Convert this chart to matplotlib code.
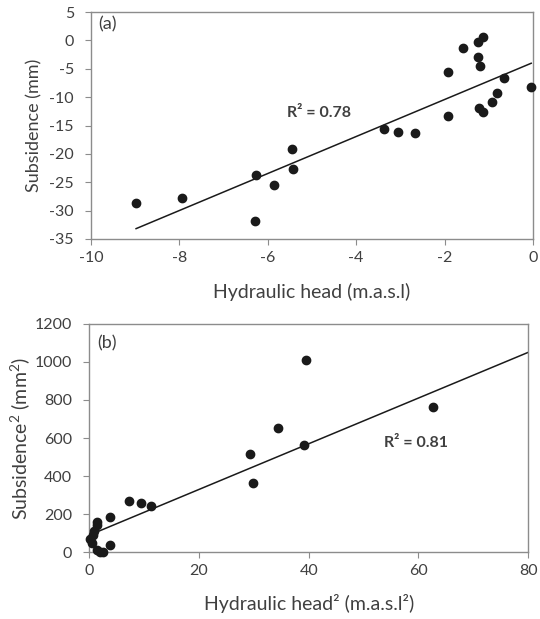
import numpy as np
import matplotlib
matplotlib.use("Agg")
from matplotlib import pyplot as plt

plt.rcParams["font.family"] = ["Lato", "DejaVu Sans"]
plt.rcParams["axes.unicode_minus"] = False
plt.rcParams["mathtext.fontset"] = "custom"
plt.rcParams["mathtext.rm"] = "Lato"
plt.rcParams["mathtext.it"] = "Lato"
plt.rcParams["mathtext.default"] = "regular"

# Panel (a): hydraulic head vs subsidence
head = [-8.98, -7.93, -6.29, -6.27, -5.87, -5.46, -5.42, -3.36, -3.06, -2.68,
        -1.93, -1.92, -1.58, -1.25, -1.13, -1.24, -1.19, -1.21, -1.13, -0.92,
        -0.82, -0.65, -0.04]
subsidence = [-28.7, -27.7, -31.8, -23.8, -25.5, -19.1, -22.7, -15.6, -16.1, -16.4,
              -5.6, -13.3, -1.3, -0.3, 0.6, -2.9, -4.6, -12.0, -12.7, -10.8,
              -9.3, -6.6, -8.2]
# linear trendline (slope, intercept) and its x range, as shown in panel (a)
trend_a = [3.26, -3.9]
trend_a_range = [-8.98, -0.04]

# Panel (b): squared values
head_sq = [39.5, 62.7, 34.4, 39.2, 29.3, 29.8, 7.2, 9.4, 11.2, 3.8,
           1.35, 1.46, 0.86, 0.62, 0.05, 0.44, 3.8, 1.35, 1.95, 2.55]
subsidence_sq = [1008, 764, 655, 565, 517, 364, 267, 259, 243, 182,
                 160, 142, 112, 89, 67, 46, 37, 10, 2, 0]
trend_b = [12.02, 89.0]
trend_b_range = [0.05, 80]

text_col = "#404040"
spine_col = "#8c8c8c"

fig = plt.figure(figsize=(5.4, 6.19), dpi=100)
ax1 = fig.add_axes([0.1685, 0.6139, 0.8185, 0.3667])
ax2 = fig.add_axes([0.1654, 0.1082, 0.8126, 0.3684])


def style(ax):
    for s in ax.spines.values():
        s.set_color(spine_col)
        s.set_linewidth(1.0)
    ax.tick_params(direction="out", length=4.3, color=spine_col,
                   labelsize=11.5, labelcolor=text_col)
    ax.tick_params(axis="y", pad=8)
    ax.tick_params(axis="x", pad=4)


# (a)
ax1.scatter(head, subsidence, s=36, color="#1a1a1a", zorder=3, clip_on=False)
xl = np.array(trend_a_range)
ax1.plot(xl, trend_a[0] * xl + trend_a[1], color="#1a1a1a", lw=1.1)
ax1.set_xlim(-10, 0)
ax1.set_ylim(-35, 5)
ax1.set_xticks(np.arange(-10, 1, 2))
ax1.set_yticks(np.arange(-35, 6, 5))
ax1.set_xlabel("Hydraulic head (m.a.s.l)", fontsize=14, color=text_col, labelpad=13)
ax1.set_ylabel("Subsidence (mm)", fontsize=13, color=text_col, labelpad=5)
ax1.text(0.017, 0.947, "(a)", transform=ax1.transAxes, fontsize=13,
         color=text_col, va="center")
ax1.text(-4.84, -12.8, "R² = 0.78", fontsize=11.5, fontweight="bold",
         color=text_col, ha="center", va="center")
style(ax1)

# (b)
ax2.scatter(head_sq, subsidence_sq, s=36, color="#1a1a1a", zorder=3, clip_on=False)
xl2 = np.array(trend_b_range)
ax2.plot(xl2, trend_b[0] * xl2 + trend_b[1], color="#1a1a1a", lw=1.1)
ax2.set_xlim(0, 80)
ax2.set_ylim(0, 1200)
ax2.set_xticks(np.arange(0, 81, 20))
ax2.set_yticks(np.arange(0, 1201, 200))
ax2.set_xlabel("Hydraulic head² (m.a.s.l²)", fontsize=14, color=text_col, labelpad=12)
ax2.set_ylabel(r"Subsidence$^2$ (mm$^2$)", fontsize=14, color=text_col, labelpad=2)
ax2.text(0.018, 0.915, "(b)", transform=ax2.transAxes, fontsize=13,
         color=text_col, va="center")
ax2.text(59.6, 575, "R² = 0.81", fontsize=11.5, fontweight="bold",
         color=text_col, ha="center", va="center")
style(ax2)

fig.savefig("out.png", dpi=100)
